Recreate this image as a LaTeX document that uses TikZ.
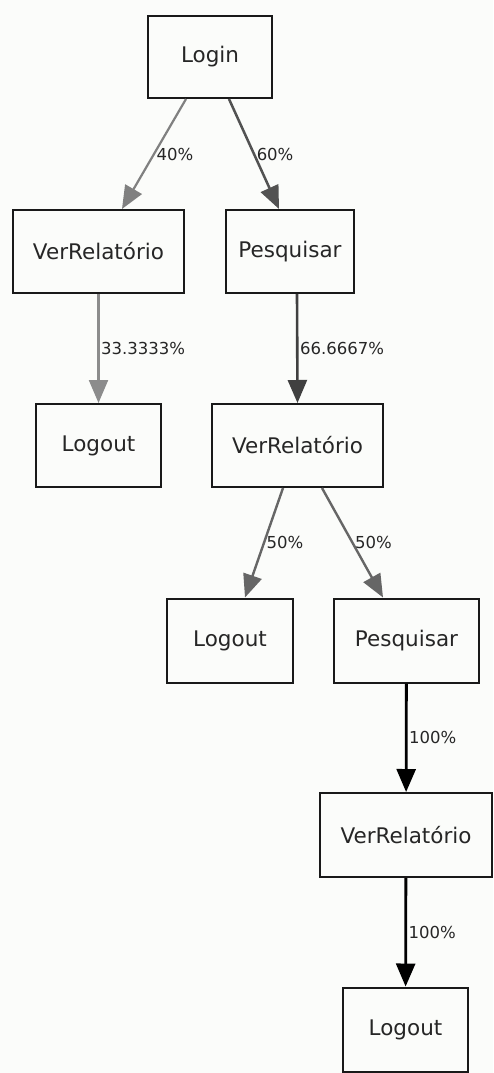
\documentclass[tikz,border=0pt]{standalone}
\usepackage{fontspec}
\setmainfont{DejaVu Sans}
\usetikzlibrary{arrows.meta}
\definecolor{paper}{HTML}{FBFCFA}
\tikzset{
  state/.style={draw=black!90, line width=2pt, fill=paper, inner sep=0pt,
    font=\fontsize{21.5}{25}\selectfont, text=black!85},
  flow/.style={line width=#1, -{Triangle[length=23pt,width=19pt]}},
  prob/.style={pos=0.5, anchor=west, inner sep=1.5pt, text=black!85,
    font=\fontsize{16.5}{19}\selectfont},
}
\begin{document}
\begin{tikzpicture}[x=1pt,y=-1pt]
  \path[fill=paper] (0,0) rectangle (493,1073);
  \useasboundingbox (0,0) rectangle (493,1073);

  % states, placed by their centres
  \node[state, minimum width=124pt, minimum height=82pt] (login) at (210,57) {Login};
  \node[state, minimum width=171pt, minimum height=83pt] (ver1) at (98.5,251.5) {VerRelatório};
  \node[state, minimum width=128pt, minimum height=83pt] (pesq1) at (290,251.5) {Pesquisar};
  \node[state, minimum width=125pt, minimum height=83pt] (out1) at (98.5,445.5) {Logout};
  \node[state, minimum width=171pt, minimum height=83pt] (ver2) at (297.5,445.5) {VerRelatório};
  \node[state, minimum width=126pt, minimum height=84pt] (out2) at (230,640.5) {Logout};
  \node[state, minimum width=145pt, minimum height=84pt] (pesq2) at (406.5,640.5) {Pesquisar};
  \node[state, minimum width=172pt, minimum height=84pt] (ver3) at (406,835) {VerRelatório};
  \node[state, minimum width=125pt, minimum height=84pt] (out3) at (405.5,1029.5) {Logout};

  % transition end points on the box borders
  \coordinate (a1) at ([xshift=-24pt]login.south);
  \coordinate (b1) at ([xshift=23.5pt]ver1.north);
  \coordinate (a2) at ([xshift=19pt]login.south);
  \coordinate (b2) at ([xshift=-11pt]pesq1.north);
  \coordinate (a3) at ([xshift=7pt]pesq1.south);
  \coordinate (a4) at ([xshift=-14.5pt]ver2.south);
  \coordinate (b4) at ([xshift=15pt]out2.north);
  \coordinate (a5) at ([xshift=24.5pt]ver2.south);
  \coordinate (b5) at ([xshift=-23.5pt]pesq2.north);

  % transitions with their probabilities
  \draw[flow=2.2pt, black!50] (a1) -- (b1) node[prob] {40\%};
  \draw[flow=2.5pt, black!68] (a2) -- (b2) node[prob] {60\%};
  \draw[flow=2.2pt, black!45] (ver1) -- (out1) node[prob] {33.3333\%};
  \draw[flow=2.6pt, black!75] (a3) -- (ver2.north) node[prob] {66.6667\%};
  \draw[flow=2.4pt, black!60] (a4) -- (b4) node[prob] {50\%};
  \draw[flow=2.4pt, black!60] (a5) -- (b5) node[prob] {50\%};
  \draw[flow=2.8pt, black] (pesq2) -- (ver3) node[prob] {100\%};
  \draw[flow=2.8pt, black] (ver3) -- (out3) node[prob] {100\%};
\end{tikzpicture}
\end{document}
